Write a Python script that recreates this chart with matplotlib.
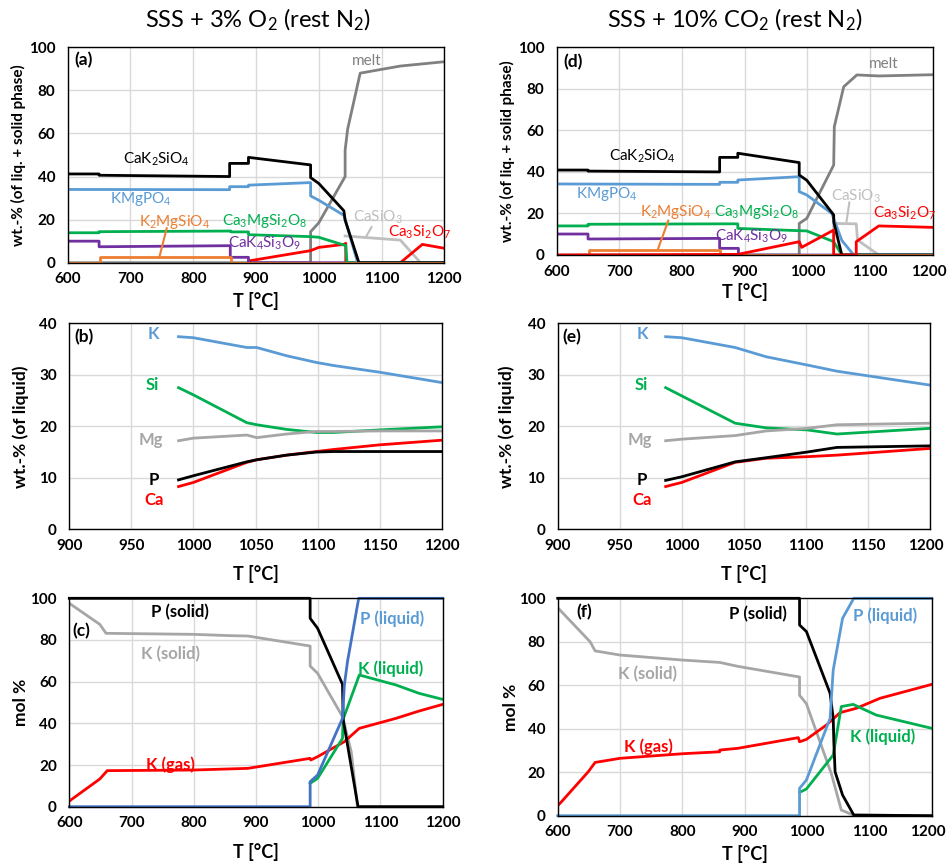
import matplotlib
matplotlib.use("Agg")
import matplotlib.pyplot as plt
from matplotlib.transforms import ScaledTranslation

plt.rcParams['font.family'] = ['Lato', 'DejaVu Sans']
plt.rcParams['mathtext.fontset'] = 'custom'
plt.rcParams['mathtext.rm'] = 'Lato'
plt.rcParams['mathtext.it'] = 'Lato:italic'
plt.rcParams['mathtext.bf'] = 'Lato:bold'
plt.rcParams['mathtext.default'] = 'regular'

# ---------------- data ----------------
titles = ["SSS + 3% O$_2$ (rest N$_2$)", "SSS + 10% CO$_2$ (rest N$_2$)"]

# Panel (a)
a_T_CaK2SiO4 = [600, 650, 650, 858, 858, 888, 888, 987, 987, 1000, 1040, 1042, 1064, 1200]
a_CaK2SiO4 = [41.2, 41.2, 40.6, 40.0, 46.1, 46.1, 48.9, 45.4, 39.5, 36.8, 24.1, 19.8, 0, 0]
a_T_KMgPO4 = [600, 858, 858, 888, 888, 987, 987, 1000, 1040, 1062, 1200]
a_KMgPO4 = [34.0, 33.9, 35.3, 35.3, 36.0, 37.2, 31.0, 29.0, 22.0, 0, 0]
a_T_Ca3MgSi2O8 = [600, 650, 650, 860, 860, 888, 888, 987, 1000, 1040, 1043, 1045, 1200]
a_Ca3MgSi2O8 = [13.9, 13.9, 14.4, 14.7, 14.3, 14.3, 13.0, 12.1, 11.8, 8.2, 8.0, 0, 0]
a_T_CaK4Si3O9 = [600, 650, 650, 859, 859, 888, 888, 1200]
a_CaK4Si3O9 = [10.0, 10.0, 7.4, 7.9, 2.5, 2.5, 0, 0]
a_T_K2MgSiO4 = [600, 651, 651, 860, 860, 1200]
a_K2MgSiO4 = [0, 0, 2.5, 2.5, 0, 0]
a_T_melt = [600, 987, 987, 1000, 1042, 1042, 1046, 1066, 1130, 1200]
a_melt = [0, 0, 14.4, 18.5, 40.0, 52.3, 62.0, 88.0, 91.3, 93.3]
a_T_CaSiO3 = [1042, 1130, 1162, 1200]
a_CaSiO3 = [12.4, 10.5, 0, 0]
a_T_Ca3Si2O7 = [888, 987, 1000, 1040, 1043, 1043, 1130, 1165, 1200]
a_Ca3Si2O7 = [0.8, 5.6, 7.1, 8.5, 9.0, 0, 0, 8.5, 6.7]

# Panel (d)
d_T_CaK2SiO4 = [600, 650, 650, 860, 860, 889, 889, 987, 987, 999, 1042, 1042, 1055, 1200]
d_CaK2SiO4 = [40.9, 40.9, 40.4, 40.0, 47.0, 47.0, 49.0, 44.5, 38.5, 36.0, 19.3, 16.0, 0, 0]
d_T_KMgPO4 = [600, 860, 860, 889, 889, 987, 987, 999, 1039, 1055, 1074, 1200]
d_KMgPO4 = [34.2, 34.0, 35.0, 35.0, 36.1, 37.7, 30.5, 28.9, 20.0, 7.0, 0, 0]
d_T_Ca3MgSi2O8 = [600, 650, 650, 860, 889, 889, 987, 999, 1042, 1055, 1200]
d_Ca3MgSi2O8 = [14.0, 14.0, 14.8, 15.0, 15.0, 12.8, 11.7, 11.6, 6.4, 0, 0]
d_T_CaK4Si3O9 = [600, 650, 650, 860, 860, 890, 890, 1200]
d_CaK4Si3O9 = [10.1, 10.1, 7.7, 8.0, 3.2, 3.2, 0, 0]
d_T_K2MgSiO4 = [600, 651, 651, 860, 860, 1200]
d_K2MgSiO4 = [0, 0, 2.4, 2.4, 0, 0]
d_T_melt = [600, 987, 987, 999, 1042, 1043, 1058, 1079, 1114, 1200]
d_melt = [0, 0, 15.2, 17.6, 43.3, 61.8, 81.0, 86.7, 86.2, 86.8]
d_T_CaSiO3 = [1042, 1042, 1078, 1080, 1114, 1200]
d_CaSiO3 = [0, 15.2, 15.0, 7.2, 0, 0]
d_T_Ca3Si2O7 = [600, 889, 987, 991, 1042, 1042, 1078, 1078, 1114, 1200]
d_Ca3Si2O7 = [0, 0.3, 6.4, 3.7, 12.0, 0, 0, 6.4, 14.0, 13.3]

# Panel (b)
b_T = [988, 1000, 1043, 1051, 1075, 1099, 1113, 1150, 1200]
b_K = [37.4, 37.2, 35.3, 35.3, 33.7, 32.4, 31.8, 30.5, 28.5]
b_Si = [27.5, 26.1, 20.7, 20.3, 19.4, 18.8, 18.8, 19.3, 19.9]
b_Mg = [17.2, 17.7, 18.3, 17.8, 18.5, 19.0, 19.0, 19.1, 19.1]
b_P = [9.6, 10.4, 13.1, 13.5, 14.4, 15.0, 15.1, 15.1, 15.1]
b_Ca = [8.3, 9.1, 13.0, 13.5, 14.4, 15.1, 15.5, 16.4, 17.3]

# Panel (e)
e_T = [987, 1000, 1043, 1068, 1101, 1125, 1200]
e_K = [37.4, 37.2, 35.3, 33.5, 31.9, 30.7, 28.0]
e_Si = [27.5, 25.9, 20.6, 19.7, 19.3, 18.5, 19.6]
e_Mg = [17.2, 17.5, 18.2, 19.1, 19.6, 20.3, 20.6]
e_P = [9.5, 10.2, 13.1, 13.9, 15.0, 15.9, 16.2]
e_Ca = [8.3, 9.1, 13.0, 13.8, 14.1, 14.4, 15.7]

# Panel (c)
c_T_Ksolid = [600, 649, 659, 800, 856, 887, 987, 987, 999, 1039, 1053, 1063, 1200]
c_Ksolid = [97.6, 87.5, 83.2, 82.7, 82.1, 81.9, 77.1, 67.5, 64.0, 43.2, 26.4, 0, 0]
c_T_Psolid = [600, 987, 987, 999, 1039, 1040, 1064, 1200]
c_Psolid = [100, 100, 90.4, 85.6, 58.7, 42.0, 0, 0]
c_T_Pliquid = [600, 987, 987, 999, 1039, 1042, 1047, 1065, 1200]
c_Pliquid = [0, 0, 12.0, 15.2, 42.4, 58.4, 69.6, 100, 100]
c_T_Kliquid = [987, 999, 1039, 1040, 1066, 1125, 1162, 1200]
c_Kliquid = [11.2, 13.6, 32.8, 42.0, 63.2, 58.4, 54.4, 51.5]
c_T_Kgas = [600, 649, 661, 800, 887, 987, 988, 999, 1042, 1066, 1125, 1162, 1200]
c_Kgas = [2.7, 13.3, 17.3, 17.6, 18.4, 23.2, 22.4, 24.0, 31.2, 37.6, 42.4, 45.9, 49.1]

# Panel (f)
f_T_Ksolid = [600, 652, 660, 700, 800, 860, 889, 988, 988, 999, 1039, 1042, 1055, 1074, 1200]
f_Ksolid = [95.7, 80.0, 75.8, 73.9, 71.6, 70.5, 68.7, 63.8, 55.4, 51.5, 19.3, 16.2, 2.6, 0.3, 0]
f_T_Psolid = [600, 988, 988, 999, 1037, 1042, 1043, 1045, 1057, 1075, 1200]
f_Psolid = [100, 100, 87.7, 84.7, 56.3, 44.8, 34.0, 20.2, 9.5, 0.3, 0]
f_T_Pliquid = [600, 988, 988, 999, 1037, 1042, 1057, 1075, 1200]
f_Pliquid = [0, 0, 12.6, 16.4, 44.8, 67.0, 90.8, 100, 100]
f_T_Kliquid = [988, 999, 1042, 1055, 1074, 1111, 1200]
f_Kliquid = [10.7, 12.3, 27.9, 50.2, 51.2, 46.3, 40.2]
f_T_Kgas = [600, 606, 649, 660, 700, 800, 860, 860, 889, 986, 988, 999, 1031, 1053, 1079, 1117, 1200]
f_Kgas = [4.6, 6.4, 20.2, 24.5, 26.4, 28.5, 29.4, 30.2, 31.0, 35.9, 34.0, 35.1, 41.7, 47.4, 49.4, 54.0, 60.4]

# ---------------- style ----------------
BLACK = "#000000"
BLUE = "#5B9BD5"
DBLUE = "#4472C4"
GREEN = "#00B050"
ORANGE = "#ED7D31"
PURPLE = "#7030A0"
RED = "#FF0000"
GRAY = "#808080"
LGRAY = "#BFBFBF"
MGRAY = "#A6A6A6"
LW = 2.0
FS_TICK = 11

fig = plt.figure(figsize=(9.49, 8.64), dpi=100)


def make_axes(rect, xlim, xstep, ylim, ystep, ylabel, ylab_fs, ylab_x, xlab_y):
    ax = fig.add_axes(rect)
    ax.set_xlim(*xlim)
    ax.set_ylim(*ylim)
    ax.set_xticks(range(xlim[0], xlim[1] + 1, xstep))
    ax.set_yticks(range(ylim[0], ylim[1] + 1, ystep))
    ax.grid(True, color="#D9D9D9", lw=1.0)
    ax.set_axisbelow(True)
    ax.tick_params(length=0, labelsize=FS_TICK)
    ax.tick_params(axis='x', pad=7)
    ax.tick_params(axis='y', pad=9)
    for lab in ax.get_xticklabels() + ax.get_yticklabels():
        lab.set_fontweight('bold')
    for s in ax.spines.values():
        s.set_color("black")
        s.set_linewidth(1.0)
    ax.set_ylabel(ylabel, fontsize=ylab_fs, fontweight='bold')
    ax.yaxis.set_label_coords(ylab_x, 0.5)
    ax.set_xlabel("T [°C]", fontsize=13, fontweight='bold')
    ax.xaxis.set_label_coords(0.5, xlab_y)
    return ax


W, H = 949.0, 864.0


def rect(l, r, t, b):
    return [l / W, 1 - b / H, (r - l) / W, (b - t) / H]


wt_lab = "wt.-% (of liq. + solid phase)"
liq_lab = "wt.-% (of liquid)"

ax_a = make_axes(rect(67.7, 444.3, 47.3, 262.7), (600, 1200), 100, (0, 100), 20, wt_lab, 11, -0.111, -0.136)
ax_d = make_axes(rect(556.7, 932.7, 47.3, 255.0), (600, 1200), 100, (0, 100), 20, wt_lab, 11, -0.110, -0.135)
ax_b = make_axes(rect(69.3, 441.7, 323.3, 529.3), (900, 1200), 50, (0, 40), 10, liq_lab, 12.5, -0.109, -0.173)
ax_e = make_axes(rect(557.7, 930.0, 323.3, 529.3), (900, 1200), 50, (0, 40), 10, liq_lab, 12.5, -0.1155, -0.173)
ax_c = make_axes(rect(69.3, 442.7, 598.3, 806.7), (600, 1200), 100, (0, 100), 20, "mol %", 12.5, -0.109, -0.174)
ax_f = make_axes(rect(557.7, 931.7, 598.3, 815.7), (600, 1200), 100, (0, 100), 20, "mol %", 12.5, -0.104, -0.135)

# keep the right-most tick label of right-hand panels inside the canvas
for ax in (ax_d, ax_e, ax_f):
    last = ax.get_xticklabels()[-1]
    last.set_transform(last.get_transform() + ScaledTranslation(-3 / 72, 0, fig.dpi_scale_trans))

fig.text(258 / W, 1 - 20 / H, titles[0], fontsize=17, ha='center', va='center')
fig.text(735 / W, 1 - 20 / H, titles[1], fontsize=17, ha='center', va='center')


def panel_label(ax, s, x, y):
    ax.text(x, y, s, fontsize=12.5, fontweight='bold', ha='left', va='center')


fs = 11
fsb = 12

# ---- panel (a) ----
ax = ax_a
ax.plot(a_T_melt, a_melt, color=GRAY, lw=LW)
ax.plot(a_T_CaSiO3, a_CaSiO3, color=LGRAY, lw=LW)
ax.plot(a_T_Ca3Si2O7, a_Ca3Si2O7, color=RED, lw=LW)
ax.plot(a_T_CaK4Si3O9, a_CaK4Si3O9, color=PURPLE, lw=LW)
ax.plot(a_T_Ca3MgSi2O8, a_Ca3MgSi2O8, color=GREEN, lw=LW)
ax.plot(a_T_KMgPO4, a_KMgPO4, color=BLUE, lw=LW)
ax.plot(a_T_CaK2SiO4, a_CaK2SiO4, color=BLACK, lw=LW)
ax.plot(a_T_K2MgSiO4, a_K2MgSiO4, color=ORANGE, lw=LW)
panel_label(ax, "(a)", 610, 94)
ax.text(1077, 93.8, "melt", color=GRAY, fontsize=fs, ha='center', va='center')
ax.text(742, 48, "CaK$_2$SiO$_4$", color=BLACK, fontsize=fs, ha='center', va='center')
ax.text(717, 29.4, "KMgPO$_4$", color=BLUE, fontsize=fs, ha='center', va='center')
ax.text(771, 19.0, "K$_2$MgSiO$_4$", color=ORANGE, fontsize=fs, ha='center', va='center')
ax.plot([757.7, 746], [16.0, 2.5], color=ORANGE, lw=1.5)
ax.text(913, 19.4, "Ca$_3$MgSi$_2$O$_8$", color=GREEN, fontsize=fs, ha='center', va='center')
ax.text(914, 9.0, "CaK$_4$Si$_3$O$_9$", color=PURPLE, fontsize=fs, ha='center', va='center')
ax.text(1094, 21.0, "CaSiO$_3$", color=LGRAY, fontsize=fs, ha='center', va='center')
ax.plot([1084, 1076], [16.5, 12.4], color=LGRAY, lw=1.5)
ax.text(1161, 14.0, "Ca$_3$Si$_2$O$_7$", color=RED, fontsize=fs, ha='center', va='center')

# ---- panel (d) ----
ax = ax_d
ax.plot(d_T_melt, d_melt, color=GRAY, lw=LW)
ax.plot(d_T_CaSiO3, d_CaSiO3, color=LGRAY, lw=LW)
ax.plot(d_T_CaK4Si3O9, d_CaK4Si3O9, color=PURPLE, lw=LW)
ax.plot(d_T_Ca3MgSi2O8, d_Ca3MgSi2O8, color=GREEN, lw=LW)
ax.plot(d_T_KMgPO4, d_KMgPO4, color=BLUE, lw=LW)
ax.plot(d_T_CaK2SiO4, d_CaK2SiO4, color=BLACK, lw=LW)
ax.plot(d_T_K2MgSiO4, d_K2MgSiO4, color=ORANGE, lw=LW)
ax.plot(d_T_Ca3Si2O7, d_Ca3Si2O7, color=RED, lw=LW)
panel_label(ax, "(d)", 610, 93)
ax.text(1122, 92, "melt", color=GRAY, fontsize=fs, ha='center', va='center')
ax.text(736, 47.4, "CaK$_2$SiO$_4$", color=BLACK, fontsize=fs, ha='center', va='center')
ax.text(680, 29.3, "KMgPO$_4$", color=BLUE, fontsize=fs, ha='center', va='center')
ax.text(789, 20.5, "K$_2$MgSiO$_4$", color=ORANGE, fontsize=fs, ha='center', va='center')
ax.plot([778, 762], [16.5, 3.2], color=ORANGE, lw=1.5)
ax.text(919, 20.8, "Ca$_3$MgSi$_2$O$_8$", color=GREEN, fontsize=fs, ha='center', va='center')
ax.text(911, 8.9, "CaK$_4$Si$_3$O$_9$", color=PURPLE, fontsize=fs, ha='center', va='center')
ax.text(1077, 28.4, "CaSiO$_3$", color=LGRAY, fontsize=fs, ha='center', va='center')
ax.plot([1067, 1062.5], [25.3, 16.1], color=LGRAY, lw=1.5)
ax.text(1155, 20.1, "Ca$_3$Si$_2$O$_7$", color=RED, fontsize=fs, ha='center', va='center')

# ---- panels (b), (e) ----
for ax, T, K, Si, Mg, P, Ca, lab in [
    (ax_b, b_T, b_K, b_Si, b_Mg, b_P, b_Ca, "(b)"),
    (ax_e, e_T, e_K, e_Si, e_Mg, e_P, e_Ca, "(e)"),
]:
    ax.plot(T, K, color=BLUE, lw=LW)
    ax.plot(T, Si, color=GREEN, lw=LW)
    ax.plot(T, Mg, color=MGRAY, lw=LW)
    ax.plot(T, Ca, color=RED, lw=LW)
    ax.plot(T, P, color=BLACK, lw=LW)
    panel_label(ax, lab, 904, 37.3)
    ax.text(968, 37.9, "K", color=BLUE, fontsize=fsb, fontweight='bold', ha='center', va='center')
    ax.text(967, 28, "Si", color=GREEN, fontsize=fsb, fontweight='bold', ha='center', va='center')
    ax.text(966, 17.3, "Mg", color=MGRAY, fontsize=fsb, fontweight='bold', ha='center', va='center')
    ax.text(968, 9.6, "P", color=BLACK, fontsize=fsb, fontweight='bold', ha='center', va='center')
    ax.text(968, 5.7, "Ca", color=RED, fontsize=fsb, fontweight='bold', ha='center', va='center')

# ---- panel (c) ----
ax = ax_c
ax.plot(c_T_Ksolid, c_Ksolid, color=MGRAY, lw=LW)
ax.plot(c_T_Kgas, c_Kgas, color=RED, lw=LW)
ax.plot(c_T_Kliquid, c_Kliquid, color=GREEN, lw=LW)
ax.plot(c_T_Psolid, c_Psolid, color=BLACK, lw=LW, clip_on=False)
ax.plot(c_T_Pliquid, c_Pliquid, color=DBLUE, lw=LW, clip_on=False)
panel_label(ax, "(c)", 605, 84.3)
ax.text(778, 93.6, "P (solid)", color=BLACK, fontsize=fsb, fontweight='bold', ha='center', va='center')
ax.text(762, 73.2, "K (solid)", color=MGRAY, fontsize=fsb, fontweight='bold', ha='center', va='center')
ax.text(762, 20, "K (gas)", color=RED, fontsize=fsb, fontweight='bold', ha='center', va='center')
ax.text(1119, 90.4, "P (liquid)", color=BLUE, fontsize=fsb, fontweight='bold', ha='center', va='center')
ax.text(1116, 66.4, "K (liquid)", color=GREEN, fontsize=fsb, fontweight='bold', ha='center', va='center')

# ---- panel (f) ----
ax = ax_f
ax.plot(f_T_Ksolid, f_Ksolid, color=MGRAY, lw=LW)
ax.plot(f_T_Kgas, f_Kgas, color=RED, lw=LW)
ax.plot(f_T_Kliquid, f_Kliquid, color=GREEN, lw=LW)
ax.plot(f_T_Psolid, f_Psolid, color=BLACK, lw=LW, clip_on=False)
ax.plot(f_T_Pliquid, f_Pliquid, color=BLUE, lw=LW, clip_on=False)
panel_label(ax, "(f)", 630, 93.5)
ax.text(744, 65, "K (solid)", color=MGRAY, fontsize=fsb, fontweight='bold', ha='center', va='center')
ax.text(745, 31.7, "K (gas)", color=RED, fontsize=fsb, fontweight='bold', ha='center', va='center')
ax.text(922, 92.8, "P (solid)", color=BLACK, fontsize=fsb, fontweight='bold', ha='center', va='center')
ax.text(1125, 92, "P (liquid)", color=BLUE, fontsize=fsb, fontweight='bold', ha='center', va='center')
ax.text(1122, 36.5, "K (liquid)", color=GREEN, fontsize=fsb, fontweight='bold', ha='center', va='center')

fig.savefig("out.png", dpi=100)
